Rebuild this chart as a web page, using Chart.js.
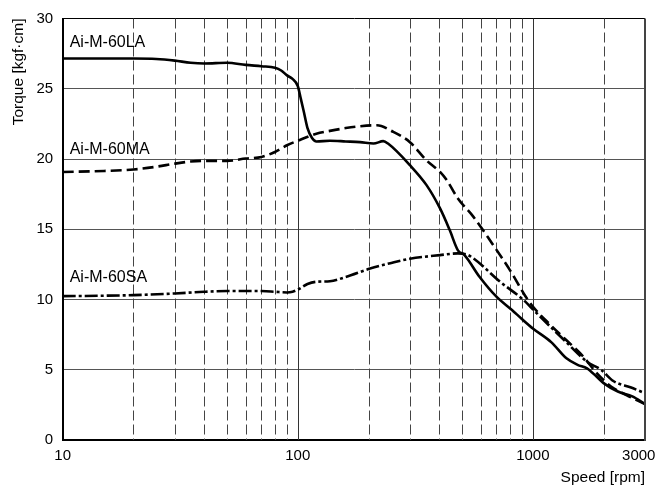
<!DOCTYPE html>
<html><head><meta charset="utf-8">
<script src="https://cdn.jsdelivr.net/npm/chart.js@4"></script>
<style>html,body{margin:0;padding:0;background:#fff}#wrap{width:660px;height:488px}</style>
</head><body><div id="wrap"><canvas id="c" width="660" height="488"></canvas></div>
<script>
// ---- data (speed in rpm, torque in kgf·cm) ----
const speedLA  = [10, 15, 20, 25, 30, 35, 40, 50, 60, 70, 80, 85, 90, 95, 100, 103, 106, 110, 115, 120, 137, 160, 184, 210, 231, 242, 300, 353, 403, 443, 480, 512, 594, 700, 815, 900, 1000, 1200, 1390, 1550, 1700, 1870, 2000, 2300, 2650, 3000];
const torqueLA = [27.15, 27.15, 27.15, 27.12, 27.0, 26.85, 26.8, 26.85, 26.7, 26.6, 26.5, 26.3, 25.95, 25.7, 25.2, 24.3, 23.4, 22.2, 21.5, 21.25, 21.3, 21.25, 21.2, 21.1, 21.27, 21.1, 19.56, 18.14, 16.48, 14.94, 13.5, 13.16, 11.6, 10.2, 9.25, 8.6, 7.94, 6.95, 5.81, 5.35, 5.1, 4.5, 4.05, 3.45, 3.1, 2.57];

const speedMA  = [10, 15, 20, 25, 30, 35, 40, 50, 60, 70, 80, 90, 100, 120, 137, 160, 184, 217, 255, 300, 353, 403, 430, 480, 558, 658, 815, 914, 1000, 1190, 1390, 1640, 1870, 2150, 2500, 3000];
const torqueMA = [19.08, 19.15, 19.25, 19.45, 19.67, 19.82, 19.87, 19.87, 20.03, 20.15, 20.5, 20.98, 21.3, 21.8, 22.0, 22.2, 22.33, 22.4, 21.93, 21.2, 19.9, 19.08, 18.5, 17.19, 15.9, 14.2, 11.86, 10.43, 9.5, 8.18, 7.1, 5.93, 4.76, 3.81, 3.2, 2.55];

const speedSA  = [10, 15, 20, 30, 40, 50, 60, 70, 80, 90, 95, 100, 110, 120, 137, 160, 203, 250, 300, 403, 480, 524, 560, 726, 914, 1000, 1390, 1700, 1950, 2200, 2600, 3000];
const torqueSA = [10.24, 10.27, 10.31, 10.43, 10.55, 10.6, 10.6, 10.6, 10.55, 10.5, 10.55, 10.7, 11.1, 11.26, 11.3, 11.6, 12.2, 12.6, 12.9, 13.16, 13.28, 13.2, 12.92, 11.26, 9.96, 9.3, 6.95, 5.57, 5.0, 4.2, 3.75, 3.33];

const seriesNames = ['Ai-M-60LA', 'Ai-M-60MA', 'Ai-M-60SA'];
const labelAnchorTorque = [27.97, 20.39, 11.26];

const xTickValues = [10, 20, 30, 40, 50, 60, 70, 80, 90, 100, 200, 300, 400, 500, 600, 700, 800, 900, 1000, 2000, 3000];
const xLabeled    = [10, 100, 1000, 3000];
const xSolidGrid  = [100, 1000];
const xDashedGrid = [20, 30, 40, 50, 60, 70, 80, 90, 200, 300, 400, 500, 600, 700, 800, 900, 2000];
const yMin = 0, yMax = 30, yStep = 5;

const xTitle = 'Speed [rpm]';
const yTitle = 'Torque [kgf·cm]';

const pts = (xs, ys) => xs.map((x, i) => ({x: x, y: ys[i]}));

Chart.defaults.font.family = "'Liberation Sans', Arial, sans-serif";
Chart.defaults.color = '#000';

const gridPlugin = {
  id: 'customGrid',
  beforeDatasetsDraw(chart) {
    const {ctx, chartArea: a, scales: {x}} = chart;
    ctx.save();
    ctx.strokeStyle = '#444';
    ctx.lineWidth = 1;
    ctx.setLineDash([10, 4]);
    xDashedGrid.forEach(v => {
      const px = Math.round(x.getPixelForValue(v)) + 0.5;
      ctx.beginPath(); ctx.moveTo(px, a.top); ctx.lineTo(px, a.bottom); ctx.stroke();
    });
    ctx.setLineDash([]);
    ctx.strokeStyle = '#333';
    xSolidGrid.forEach(v => {
      const px = Math.round(x.getPixelForValue(v)) + 0.5;
      ctx.beginPath(); ctx.moveTo(px, a.top); ctx.lineTo(px, a.bottom); ctx.stroke();
    });
    ctx.restore();
  },
  afterDatasetsDraw(chart) {
    const {ctx, chartArea: a, scales: {x, y}} = chart;
    ctx.save();
    ctx.strokeStyle = '#444';
    ctx.lineWidth = 2;
    ctx.beginPath(); ctx.moveTo(a.right, a.top); ctx.lineTo(a.right, a.bottom + 1); ctx.stroke();
    ctx.fillStyle = '#000';
    ctx.font = "16px 'Liberation Sans', Arial, sans-serif";
    ctx.textBaseline = 'alphabetic';
    ctx.textAlign = 'left';
    seriesNames.forEach((n, i) => {
      ctx.fillText(n, x.getPixelForValue(xTickValues[0]) + 7, y.getPixelForValue(labelAnchorTorque[i]));
    });
    ctx.restore();
  }
};

const lineBase = {pointRadius: 0, borderColor: '#000', borderWidth: 2.6, fill: false, cubicInterpolationMode: 'monotone'};

new Chart(document.getElementById('c'), {
  type: 'line',
  data: {
    datasets: [
      Object.assign({label: seriesNames[0], data: pts(speedLA, torqueLA)}, lineBase),
      Object.assign({label: seriesNames[1], data: pts(speedMA, torqueMA), borderDash: [11, 5]}, lineBase),
      Object.assign({label: seriesNames[2], data: pts(speedSA, torqueSA), borderDash: [13, 3, 3, 3]}, lineBase)
    ]
  },
  options: {
    responsive: false,
    animation: false,
    layout: {padding: {top: 18, right: 15, left: 0, bottom: 0}},
    plugins: {legend: {display: false}, tooltip: {enabled: false}},
    scales: {
      x: {
        type: 'logarithmic',
        min: 10, max: 3000,
        afterBuildTicks(s) { s.ticks = xTickValues.map(v => ({value: v})); },
        afterFit(s) { s.height = 48; s.paddingRight = 0; s.paddingLeft = 0; },
        ticks: {
          autoSkip: false, maxRotation: 0, minRotation: 0, padding: 7,
          font: {size: 15},
          callback(v) { return xLabeled.includes(v) ? (v === 3000 ? String(v) + '   ' : String(v)) : ''; }
        },
        grid: {display: false, drawTicks: false},
        border: {display: true, color: '#000', width: 2},
        title: {display: true, text: xTitle, align: 'end', font: {size: 15.5}, padding: {top: 0, bottom: 0.5}}
      },
      y: {
        min: yMin, max: yMax,
        afterFit(s) { s.width = 62.7; },
        ticks: {stepSize: yStep, padding: 9.5, font: {size: 15}},
        grid: {
          drawTicks: false,
          color: c => c.tick && c.tick.value === yMax ? '#000' : '#555',
          lineWidth: 1
        },
        border: {display: true, color: '#000', width: 2},
        title: {display: true, text: yTitle, align: 'end', font: {size: 15.5}, padding: {top: 9, bottom: 0}}
      }
    }
  },
  plugins: [gridPlugin]
});
</script>
</body></html>
